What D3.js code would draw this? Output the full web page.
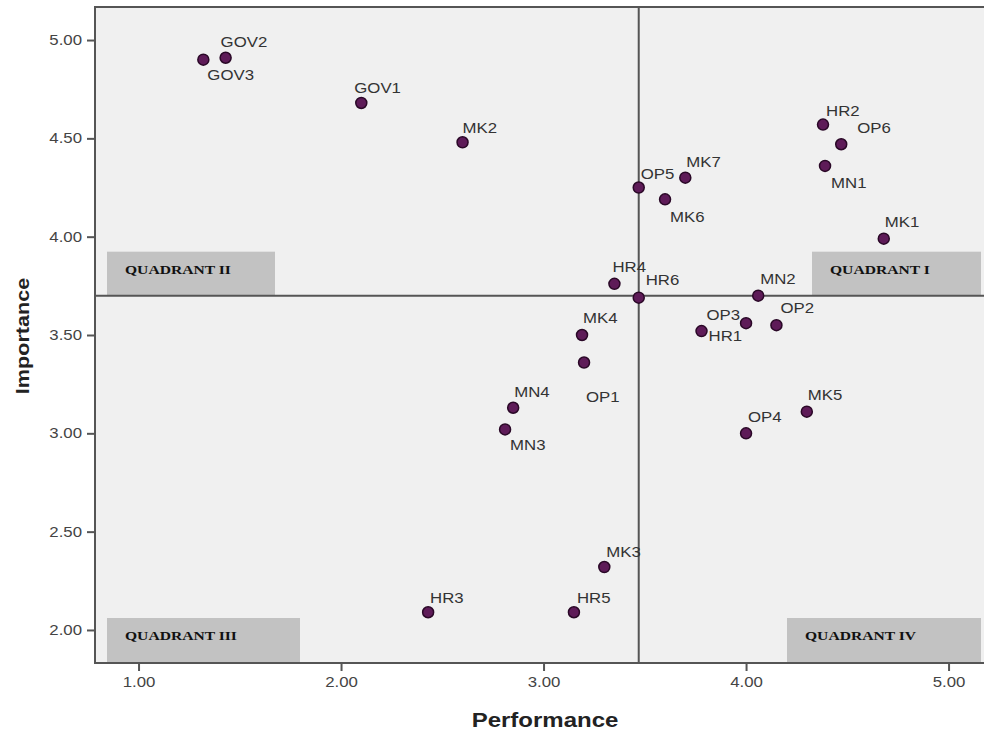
<!DOCTYPE html>
<html>
<head>
<meta charset="utf-8">
<script src="https://cdn.jsdelivr.net/npm/d3@7"></script>
<style>
  body { margin: 0; background: #fff; }
  text { font-family: "Liberation Sans", Arial, sans-serif; }
</style>
</head>
<body>
<div id="chart"></div>
<script>
/* Data */
var items       = ["GOV2","GOV3","GOV1","MK2","OP5","MK7","MK6","HR2","OP6","MN1","MK1","HR4","HR6","MK4","OP1","MN4","MN3","MN2","OP3","OP2","HR1","MK5","OP4","MK3","HR5","HR3"];
var performance = [1.43, 1.32, 2.10, 2.60, 3.47, 3.70, 3.60, 4.38, 4.47, 4.39, 4.68, 3.35, 3.47, 3.19, 3.20, 2.85, 2.81, 4.06, 4.00, 4.15, 3.78, 4.30, 4.00, 3.30, 3.15, 2.43];
var importance  = [4.91, 4.90, 4.68, 4.48, 4.25, 4.30, 4.19, 4.57, 4.47, 4.36, 3.99, 3.76, 3.69, 3.50, 3.36, 3.13, 3.02, 3.70, 3.56, 3.55, 3.52, 3.11, 3.00, 2.32, 2.09, 2.09];
var meanPerformance = 3.47;
var meanImportance  = 3.70;
var xTicks = [1, 2, 3, 4, 5];
var yTicks = [2, 2.5, 3, 3.5, 4, 4.5, 5];
var quadrantNames = ["QUADRANT I", "QUADRANT II", "QUADRANT III", "QUADRANT IV"];

/* label nudges (layout only): [dx, dy, anchor] */
var labelNudge = {
  GOV2: [-5,-11], GOV3: [4,20], GOV1: [-7,-10], MK2: [0,-9], OP5: [2,-9],
  MK7: [1,-11], MK6: [5,23], HR2: [3,-9], OP6: [16,-11], MN1: [6,22],
  MK1: [1,-12], HR4: [-2,-12], HR6: [7,-13], MK4: [1,-12], OP1: [2,39],
  MN4: [1,-11], MN3: [5,21], MN2: [2,-12], OP3: [-6,-3,"end"], OP2: [4,-12],
  HR1: [7,10], MK5: [1,-12], OP4: [2,-11], MK3: [2,-10], HR5: [3,-9], HR3: [2,-9]
};

var data = items.map(function(n, i) {
  return { name: n, x: performance[i], y: importance[i] };
});

var width = 984, height = 732;
var margin = { top: 7, right: 0, bottom: 69, left: 95 };
var stretch = 1.2;

var xScale = d3.scaleLinear().domain([0.785, 5.175]).range([margin.left, width - margin.right]);
var yScale = d3.scaleLinear().domain([1.832, 5.168]).range([height - margin.bottom, margin.top]);

var svg = d3.select("#chart").append("svg")
  .attr("width", width)
  .attr("height", height);

var x0 = margin.left, x1 = width - margin.right;
var y0 = margin.top, y1 = height - margin.bottom;

/* plot background */
svg.append("rect")
  .attr("x", x0).attr("y", y0)
  .attr("width", x1 - x0).attr("height", y1 - y0)
  .attr("fill", "#f0f0f0");

/* quadrant boxes */
var boxes = [
  { x: x1 - 172, y: yScale(meanImportance) - 44, w: 169, h: 44 },
  { x: x0 + 12,  y: yScale(meanImportance) - 44, w: 168, h: 44 },
  { x: x0 + 12,  y: y1 - 45, w: 193, h: 45 },
  { x: x1 - 197, y: y1 - 45, w: 194, h: 45 }
];
var q = svg.append("g").attr("class", "quadrants");
boxes.forEach(function(b, i) {
  q.append("rect")
    .attr("x", b.x).attr("y", b.y)
    .attr("width", b.w).attr("height", b.h)
    .attr("fill", "#c2c2c2");
  q.append("text")
    .attr("transform", "translate(" + (b.x + 18) + "," + (b.y + 22) + ") scale(" + stretch + ",1)")
    .style("font-family", "'Liberation Serif', 'Times New Roman', serif")
    .style("font-weight", "bold")
    .style("font-size", "13px")
    .attr("fill", "#111")
    .text(quadrantNames[i]);
});

/* mean lines */
svg.append("line")
  .attr("x1", xScale(meanPerformance)).attr("x2", xScale(meanPerformance))
  .attr("y1", y0).attr("y2", y1)
  .attr("stroke", "#555").attr("stroke-width", 2);
svg.append("line")
  .attr("x1", x0).attr("x2", x1)
  .attr("y1", yScale(meanImportance)).attr("y2", yScale(meanImportance))
  .attr("stroke", "#555").attr("stroke-width", 2);

/* frame */
svg.append("path")
  .attr("d", "M" + x1 + "," + y0 + "H" + x0 + "V" + y1 + "H" + x1)
  .attr("fill", "none")
  .attr("stroke", "#555").attr("stroke-width", 2);

/* axes */
var xAxis = d3.axisBottom(xScale).tickValues(xTicks).tickFormat(d3.format(".2f"))
  .tickSize(8).tickPadding(6).tickSizeOuter(0);
var yAxis = d3.axisLeft(yScale).tickValues(yTicks).tickFormat(d3.format(".2f"))
  .tickSize(8).tickPadding(5).tickSizeOuter(0);

var gx = svg.append("g").attr("transform", "translate(0," + y1 + ")").call(xAxis);
var gy = svg.append("g").attr("transform", "translate(" + x0 + ",0)").call(yAxis);

[gx, gy].forEach(function(g) {
  g.select(".domain").remove();
  g.selectAll(".tick line").attr("stroke", "#555").attr("stroke-width", 2);
  g.selectAll(".tick text")
    .attr("fill", "#444")
    .style("font-size", "14px")
    .style("font-family", "'Liberation Sans', Arial, sans-serif");
});
gx.selectAll(".tick text").attr("transform", "scale(" + stretch + ",1)");
gy.selectAll(".tick text")
  .attr("x", -13 / stretch)
  .attr("transform", "scale(" + stretch + ",1)");

/* axis titles */
svg.append("text")
  .attr("transform", "translate(" + 545 + "," + 727 + ") scale(" + stretch + ",1)")
  .attr("text-anchor", "middle")
  .style("font-weight", "bold")
  .style("font-size", "20px")
  .attr("fill", "#222")
  .text("Performance");

svg.append("text")
  .attr("transform", "translate(" + 29 + "," + 336 + ") rotate(-90) scale(" + stretch + ",1)")
  .attr("text-anchor", "middle")
  .style("font-weight", "bold")
  .style("font-size", "18px")
  .attr("fill", "#222")
  .text("Importance");

/* points */
var pts = svg.append("g").attr("class", "points");
pts.selectAll("circle")
  .data(data).enter()
  .append("circle")
  .attr("cx", function(d) { return xScale(d.x); })
  .attr("cy", function(d) { return yScale(d.y); })
  .attr("r", 5.5)
  .attr("fill", "#5e1b58")
  .attr("stroke", "#2a0827")
  .attr("stroke-width", 1.5);

/* labels */
pts.selectAll("text")
  .data(data).enter()
  .append("text")
  .attr("transform", function(d) {
    var n = labelNudge[d.name] || [1, -10];
    return "translate(" + (xScale(d.x) + n[0]) + "," + (yScale(d.y) + n[1]) + ") scale(" + stretch + ",1)";
  })
  .attr("text-anchor", function(d) { var n = labelNudge[d.name]; return (n && n[2]) || "start"; })
  .style("font-size", "14px")
  .attr("fill", "#333")
  .text(function(d) { return d.name; });
</script>
</body>
</html>
